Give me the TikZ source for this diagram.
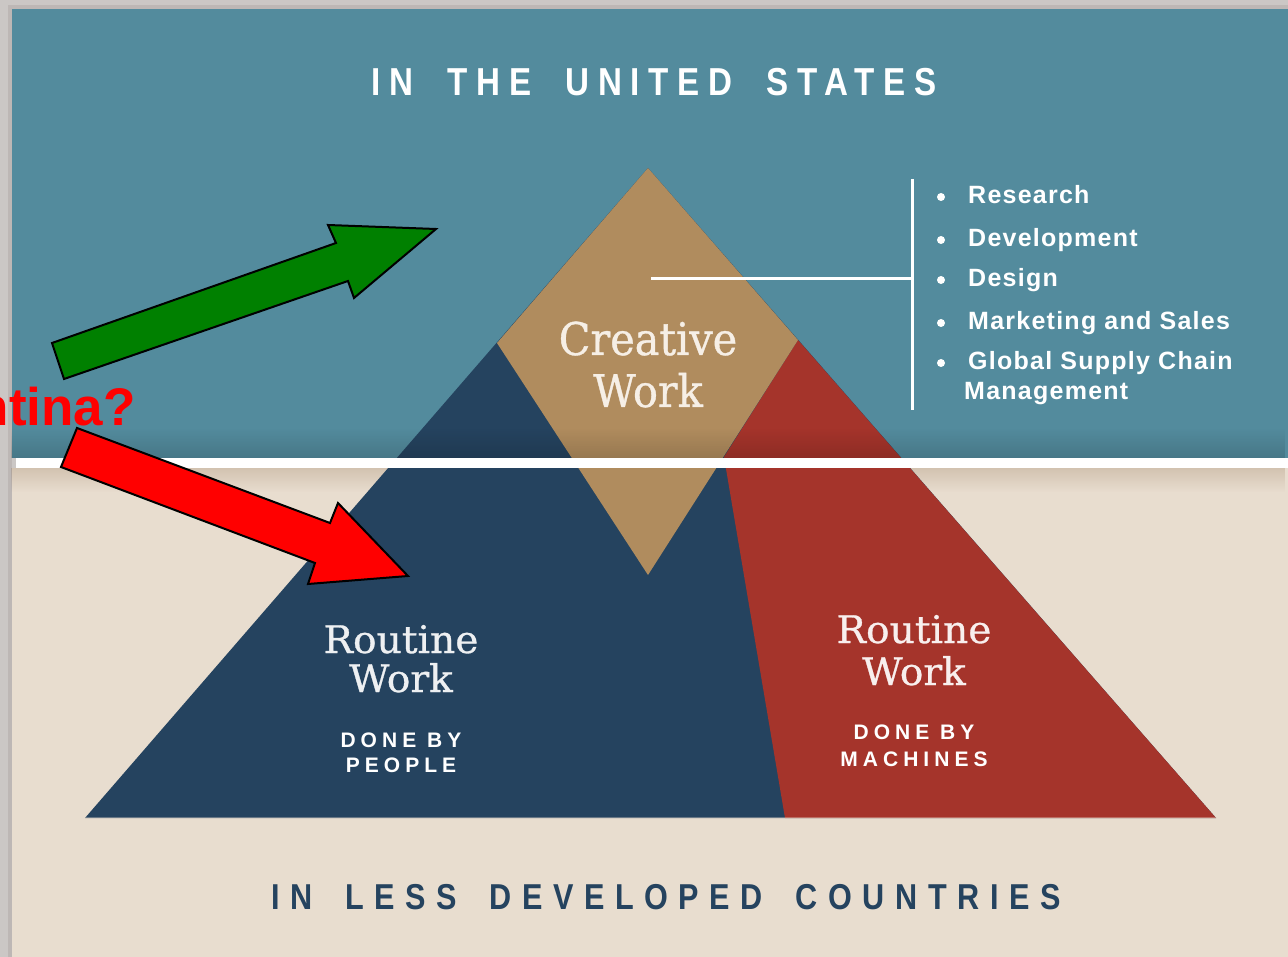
\documentclass[tikz,border=0pt]{standalone}
\usepackage{fontspec}
\usetikzlibrary{fadings}
\setmainfont{Liberation Sans}
\newfontfamily\titlefont{Liberation Sans}[FakeStretch=0.85,LetterSpace=22.5,WordSpace=1.9]
\newfontfamily\lowtitlefont{Liberation Sans}[FakeStretch=0.85,LetterSpace=29.5,WordSpace=1.7]
\newfontfamily\doneByfont{Liberation Sans}[LetterSpace=24]
\newfontfamily\listfont{Liberation Sans}[LetterSpace=5]
\newfontfamily\creativefont{DejaVu Serif}[FakeStretch=0.92,FakeBold=0.8]
\newfontfamily\routinefont{DejaVu Serif}[FakeStretch=1.03,FakeBold=0.8]

\definecolor{panelblue}{HTML}{538B9D}
\definecolor{panelbeige}{HTML}{E8DDCF}
\definecolor{frame}{HTML}{CBC7C5}
\definecolor{framedark}{HTML}{BDB7B5}
\definecolor{navy}{HTML}{25435F}
\definecolor{brick}{HTML}{A5342B}
\definecolor{tan}{HTML}{B08C5E}
\definecolor{cream}{HTML}{F6EFE6}
\definecolor{arrowgreen}{HTML}{008000}

\tikzset{
  title/.style={inner sep=0pt, anchor=base},
  worktext/.style={inner sep=0pt, anchor=base, text=cream, font={\routinefont\fontsize{38}{38}\selectfont}},
  donetext/.style={inner sep=0pt, anchor=base, text=white, font={\doneByfont\bfseries\fontsize{21}{21}\selectfont}},
  listitem/.style={inner sep=0pt, anchor=base west, text=white, font={\listfont\bfseries\fontsize{25}{25}\selectfont}},
  bulletdot/.style={circle, fill=white, inner sep=0pt, minimum size=8pt},
  bigarrow/.style={draw=black, line width=2pt, line join=miter},
  whiteline/.style={draw=white, line width=3pt},
}

\begin{document}
\begin{tikzpicture}[x=1pt, y=-1pt]
\useasboundingbox (0,0) rectangle (1288,957);

% frame and the two panels
\fill[frame] (0,0) rectangle (1288,957);
\fill[framedark] (8,5) rectangle (1288,9);
\fill[framedark] (8,5) rectangle (12,957);
\fill[panelblue] (12,9) rectangle (1288,458);
\fill[panelbeige] (12,468) rectangle (1288,957);
\fill[brown!60!black, fill opacity=0.18, path fading=south] (12,468) rectangle (1288,492);

% pyramid corners
\coordinate (apex) at (648,168);
\coordinate (baseL) at (85,818);
\coordinate (baseR) at (1216,818);
\coordinate (dL) at (497,343);
\coordinate (dR) at (798,340);
\coordinate (dB) at (648,575);
\coordinate (split) at (724,457);
\coordinate (splitB) at (785,818);

% routine work done by people, by machines, and creative work
\fill[navy] (apex) -- (baseL) -- (baseR) -- cycle;
\fill[brick] (dR) -- (baseR) -- (splitB) -- (split) -- cycle;
\fill[tan] (apex) -- (dL) -- (dB) -- (dR) -- cycle;
\draw[panelbeige, line width=2pt, draw opacity=0.35] (baseL) -- (baseR);

% shadow along the bottom of the upper panel
\fill[black, fill opacity=0.14, path fading=north] (12,428) rectangle (1288,458);

% dividing line between the panels
\fill[white] (16,458) rectangle (1288,468);

% panel titles
\node[title, text=white, font={\titlefont\bfseries\fontsize{39}{39}\selectfont}] (usTitle) at (654,96) {IN THE UNITED STATES};
\node[title, text=navy, font={\lowtitlefont\bfseries\fontsize{36}{36}\selectfont}] (ldcTitle) at (666,909) {IN LESS DEVELOPED COUNTRIES};

% creative work
\node[worktext, font={\creativefont\fontsize{45}{45}\selectfont}] (creative1) at (648,355) {Creative};
\node[worktext, font={\creativefont\fontsize{45}{45}\selectfont}] (creative2) at (648,407) {Work};

% routine work by people
\node[worktext, text=white!92!navy] (peopleA) at (401,653) {Routine};
\node[worktext, text=white!92!navy] (peopleB) at (401,692) {Work};
\node[donetext] (peopleC) at (401,747) {DONE BY};
\node[donetext] (peopleD) at (401,772) {PEOPLE};

% routine work by machines
\node[worktext, text=white!92!brick] (machineA) at (914,643) {Routine};
\node[worktext, text=white!92!brick] (machineB) at (914,685) {Work};
\node[donetext] (machineC) at (914,739) {DONE BY};
\node[donetext] (machineD) at (914,766) {MACHINES};

% list of creative activities
\coordinate (barTop) at (912,179);
\coordinate (barBot) at (912,410);
\coordinate (barMid) at (912,279);
\coordinate (diamondMid) at (651,279);
\draw[whiteline] (barTop) -- (barBot);
\draw[whiteline] (diamondMid) -- (barMid);

\node[bulletdot] (b1) at (941,197) {};
\node[bulletdot] (b2) at (941,240) {};
\node[bulletdot] (b3) at (941,280) {};
\node[bulletdot] (b4) at (941,323) {};
\node[bulletdot] (b5) at (941,363) {};
\node[listitem] (l1) at (968,204) {Research};
\node[listitem] (l2) at (968,247) {Development};
\node[listitem] (l3) at (968,287) {Design};
\node[listitem] (l4) at (968,330) {Marketing and Sales};
\node[listitem] (l5) at (968,370) {Global Supply Chain};
\node[listitem] (l6) at (964,400) {Management};

% block arrows
\filldraw[bigarrow, fill=arrowgreen]
  (52,343) -- (336,243) -- (328,225) -- (436,229) -- (354,298) -- (348,281) -- (64,379) -- cycle;
\filldraw[bigarrow, fill=red]
  (77,428) -- (330,523) -- (338,503) -- (408,576) -- (308,584) -- (315,563) -- (61,467) -- cycle;

\node[anchor=base east, inner sep=0pt, text=red, font={\bfseries\fontsize{53}{53}\selectfont}] (question) at (136,425) {ntina?};
\end{tikzpicture}
\end{document}
